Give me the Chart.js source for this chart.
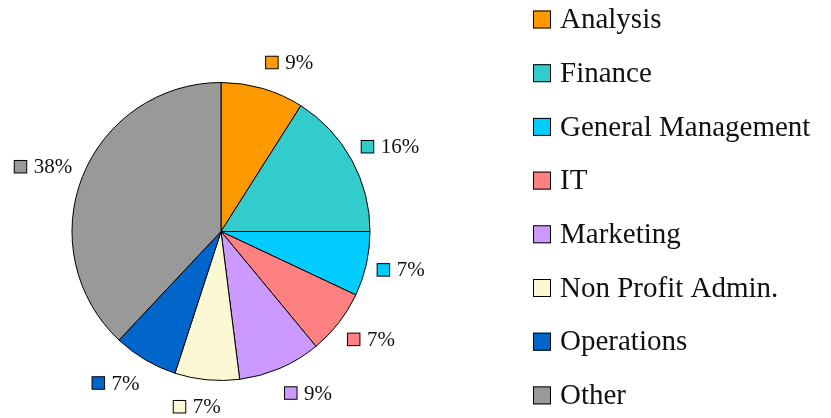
<!DOCTYPE html>
<html>
<head>
<meta charset="utf-8">
<script src="https://cdn.jsdelivr.net/npm/chart.js@4.4.1/dist/chart.umd.min.js"></script>
<style>
  html, body { margin: 0; padding: 0; background: #fff; }
  #wrap { width: 831px; height: 418px; }
</style>
</head>
<body>
<div id="wrap"><canvas id="pie-canvas"></canvas></div>
<script>
var categories = ['Analysis', 'Finance', 'General Management', 'IT', 'Marketing',
                  'Non Profit Admin.', 'Operations', 'Other'];
var shares = [9, 16, 7, 7, 9, 7, 7, 38];
var sliceColors = ['#ff9900', '#33cccc', '#00ccff', '#ff8080', '#cc99ff',
                   '#fcf8d4', '#0066cc', '#999999'];

var serif = '"Liberation Serif", "DejaVu Serif", serif';

// percent labels outside every slice: small colour square + value
var sliceLabels = {
    id: 'sliceLabels',
    afterDatasetsDraw: function(chart) {
        var ctx = chart.ctx;
        var meta = chart.getDatasetMeta(0);
        var data = chart.data.datasets[0].data;
        ctx.save();
        ctx.font = '21px ' + serif;
        ctx.textBaseline = 'middle';
        meta.data.forEach(function(arc, i) {
            var p = arc.getProps(['x', 'y', 'startAngle', 'endAngle', 'outerRadius'], true);
            var mid = (p.startAngle + p.endAngle) / 2;
            var s = Math.cos(mid), c = -Math.sin(mid); // s: sin from top, c: cos from top
            var ax = p.x + (p.outerRadius + 11) * s;
            var ay = p.y - (p.outerRadius + 27) * c;
            var txt = data[i] + '%';
            var sq = 12.5, gap = 7;
            var w = sq + gap + ctx.measureText(txt).width;
            var a = Math.max(0, Math.min(1, 0.5 - 2 * s));
            var left = ax - a * w;
            ctx.fillStyle = sliceColors[i];
            ctx.fillRect(left, ay - sq / 2, sq, sq);
            ctx.strokeStyle = '#000';
            ctx.lineWidth = 1;
            ctx.strokeRect(left, ay - sq / 2, sq, sq);
            ctx.fillStyle = '#111';
            ctx.textAlign = 'left';
            ctx.fillText(txt, left + sq + gap, ay + 1);
        });
        ctx.restore();
    }
};

// legend column on the right
var sideLegend = {
    id: 'sideLegend',
    afterDraw: function(chart) {
        var ctx = chart.ctx;
        var x0 = 533, y0 = 19.5, step = 53.7, box = 18;
        ctx.save();
        ctx.font = '29px ' + serif;
        ctx.textBaseline = 'middle';
        ctx.textAlign = 'left';
        chart.data.labels.forEach(function(lbl, i) {
            var cy = y0 + i * step;
            ctx.fillStyle = sliceColors[i];
            ctx.fillRect(x0, cy - box / 2, box, box);
            ctx.strokeStyle = '#000';
            ctx.lineWidth = 1;
            ctx.strokeRect(x0 + 0.5, cy - box / 2 + 0.5, box - 1, box - 1);
            ctx.fillStyle = '#111';
            ctx.fillText(lbl, x0 + box + 9, cy + 1);
        });
        ctx.restore();
    }
};

var ctx = document.getElementById('pie-canvas').getContext('2d');
var chartObj = new Chart(ctx, {
    type: 'pie',
    data: {
        labels: categories,
        datasets: [{
            data: shares,
            backgroundColor: sliceColors,
            borderColor: '#000',
            borderWidth: 1
        }]
    },
    options: {
        responsive: true,
        maintainAspectRatio: false,
        animation: false,
        radius: 149,
        layout: { padding: { top: 45, right: 389, left: 0, bottom: 0 } },
        plugins: {
            legend: { display: false },
            tooltip: { enabled: false }
        }
    },
    plugins: [sliceLabels, sideLegend]
});
</script>
</body>
</html>
